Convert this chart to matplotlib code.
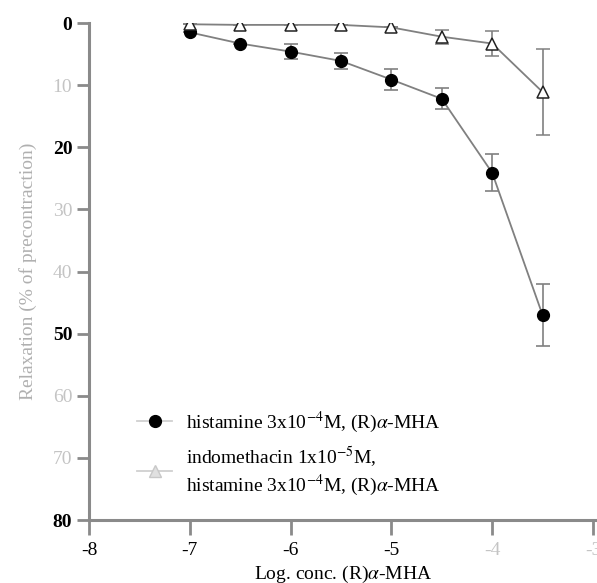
import matplotlib
matplotlib.use("Agg")
import matplotlib.pyplot as plt
from matplotlib.lines import Line2D

# log concentration of (R)alpha-MHA
log_conc = [-7, -6.5, -6, -5.5, -5, -4.5, -4, -3.5]

# histamine 3x10^-4 M alone
hist_mean = [1.5, 3.3, 4.6, 6.1, 9.1, 12.2, 24.1, 47.0]
hist_err = [0, 0, 1.2, 1.3, 1.7, 1.7, 3.0, 5.0]

# with indomethacin 1x10^-5 M
indo_mean = [0.2, 0.3, 0.3, 0.3, 0.7, 2.2, 3.3, 11.1]
indo_err = [0, 0, 0, 0, 0, 1.1, 2.0, 7.0]

y_ticks = [0, 10, 20, 30, 40, 50, 60, 70, 80]
x_ticks = [-8, -7, -6, -5, -4, -3]
faded_y = [10, 30, 40, 60, 70]
faded_x = [-4, -3]

plt.rcParams['font.family'] = ['Liberation Serif', 'DejaVu Serif']
plt.rcParams['mathtext.fontset'] = 'stix'

fig = plt.figure(figsize=(5.97, 5.83), dpi=100)
ax = fig.add_axes([0.149, 0.108, 0.851, 0.8525])

line_col = '#808080'
ax.errorbar(log_conc, hist_mean, yerr=hist_err, color=line_col, lw=1.3,
            marker='o', ms=8.5, mfc='black', mec='black', ecolor=line_col,
            elinewidth=1.2, capsize=5, capthick=1.2, zorder=3)
ax.errorbar(log_conc, indo_mean, yerr=indo_err, color=line_col, lw=1.3,
            marker='^', ms=9, mfc='white', mec='#222222', mew=1.1,
            ecolor=line_col, elinewidth=1.2, capsize=5, capthick=1.2, zorder=3)

ax.set_xlim(-8, -2.96)
ax.set_ylim(80, 0)
ax.set_xticks(x_ticks)
ax.set_yticks(y_ticks)
ax.set_xticklabels([str(t) for t in x_ticks])
ax.set_yticklabels([str(t) for t in y_ticks])

for s in ['top', 'right']:
    ax.spines[s].set_visible(False)
for s in ['left', 'bottom']:
    ax.spines[s].set_color('#8a8a8a')
    ax.spines[s].set_linewidth(2.2)

ax.tick_params(axis='both', direction='out', length=9, width=2, color='#8a8a8a',
               labelsize=14)
ax.tick_params(axis='y', pad=3)
ax.tick_params(axis='x', length=11, pad=5)

for lab, t in zip(ax.get_yticklabels(), y_ticks):
    lab.set_color('#c4c4c4' if t in faded_y else 'black')
    if t not in faded_y:
        lab.set_fontweight('bold')
for lab, t in zip(ax.get_xticklabels(), x_ticks):
    lab.set_color('#c4c4c4' if t in faded_x else 'black')

ax.set_xlabel(r'Log. conc. (R)$\alpha$-MHA', fontsize=14, labelpad=3)
ax.set_ylabel('Relaxation (% of precontraction)', fontsize=14, color='#b0b0b0',
              labelpad=11)

handles = [
    Line2D([], [], color='#d0d0d0', lw=1.3, marker='o', ms=8.5,
           mfc='black', mec='black'),
    Line2D([], [], color='#d0d0d0', lw=1.3, marker='^', ms=8.5,
           mfc='#e0e0e0', mec='#c8c8c8'),
]
labels = [
    r'histamine 3x10$^{-4}$M, (R)$\alpha$-MHA',
    'indomethacin 1x10$^{-5}$M,\n' + r'histamine 3x10$^{-4}$M, (R)$\alpha$-MHA',
]
ax.legend(handles, labels, frameon=False, fontsize=14, loc='upper left',
          bbox_to_anchor=(0.08, 0.238), handlelength=1.8, handletextpad=0.7,
          labelspacing=0.5, borderaxespad=0)

fig.savefig('out.png', dpi=100)
